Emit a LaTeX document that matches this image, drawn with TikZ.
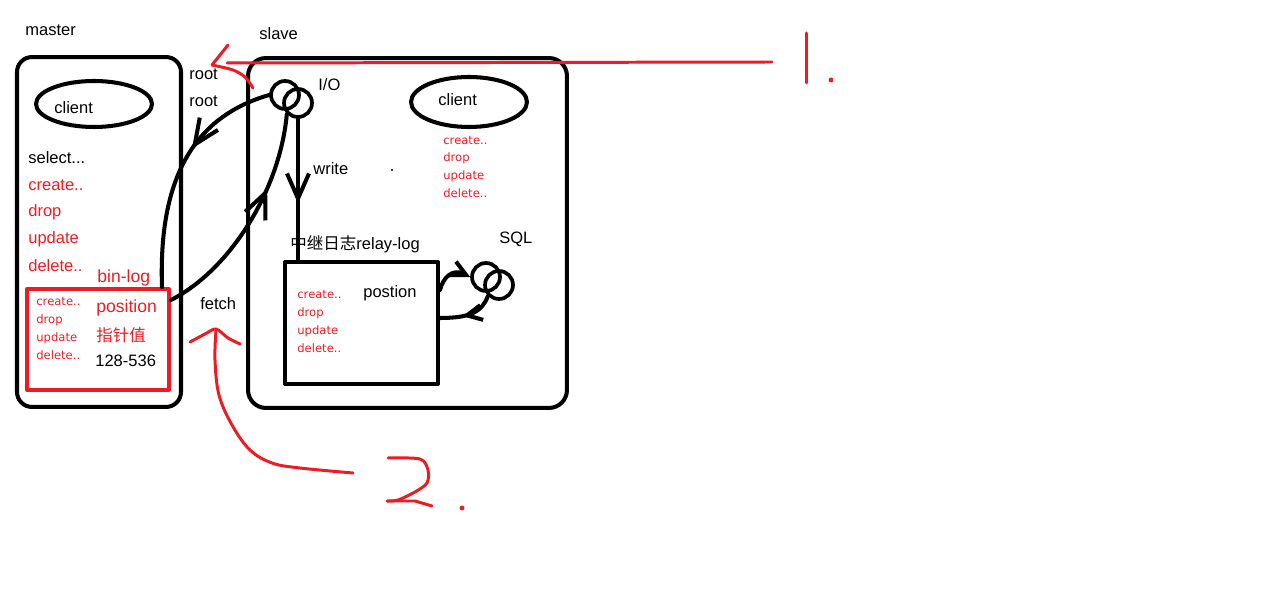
\documentclass[tikz,border=0pt]{standalone}
\usepackage{fontspec}
\setmainfont{Liberation Sans}
\newfontfamily\cjk{Noto Sans CJK SC}
\newfontfamily\smallfont{DejaVu Sans}
\usetikzlibrary{shapes.geometric,arrows.meta,decorations.markings}
\definecolor{paintred}{HTML}{ED1C24}
\tikzset{
  txt/.style={anchor=west, inner sep=0pt, font=\fontsize{9.4}{11}\selectfont},
  redtxt/.style={txt, text=paintred},
  tinytxt/.style={anchor=west, inner sep=0pt, text=paintred, font=\smallfont\fontsize{6.6}{8}\selectfont},
  box/.style={draw, line width=2.3pt, inner sep=0pt},
  ring/.style={draw, circle, line width=2.1pt, minimum size=0.56cm, inner sep=0pt},
  oval/.style={draw, ellipse, line width=2.3pt, inner sep=0pt},
  link/.style={line width=2.3pt},
  midarrow/.style={postaction={decorate}, decoration={markings,
    mark=at position #1 with {\arrow{Straight Barb[length=5mm,width=4.4mm]}}}},
  smallarrow/.style={postaction={decorate}, decoration={markings,
    mark=at position #1 with {\arrow{Straight Barb[length=3mm,width=3mm]}}}},
  pen/.style={paintred, line width=1.7pt},
}
\begin{document}
\begin{tikzpicture}[x=0.02cm, y=-0.02cm, line join=round, line cap=round, >=stealth]
\useasboundingbox (0,0) rectangle (1285,607);
% master side
\node[txt] (mastertxt) at (25,30) {master};
\node[box, rounded corners=0.3cm, minimum width=3.28cm, minimum height=7cm] (master) at (99,232) {};
\node[oval, minimum width=2.32cm, minimum height=0.92cm] (mclient) at (94,104) {};
\node[txt] (mclienttxt) at (54,108) {client};
\node[txt] (select) at (28,158) {select...};
\foreach \t/\y [count=\i] in {create../185, drop/212, update/239, delete../266}
  \node[redtxt] (msql\i) at (28,\y) {\t};
\node[redtxt, font=\fontsize{10}{12}\selectfont] (binlog) at (97,278) {bin-log};
\node[box, draw=paintred, minimum width=2.84cm, minimum height=2.02cm] (binbox) at (98,339.5) {};
\foreach \t/\y [count=\i] in {create../302, drop/320, update/338, delete../355}
  \node[tinytxt] (bsql\i) at (36,\y) {\t};
\node[redtxt, font=\fontsize{10}{12}\selectfont] (pos) at (96,308) {position};
\node[redtxt] (ptr) at (96,335) {\cjk 指针值};
\node[txt] (range) at (95,361) {128-536};
\node[txt] (root1) at (189,74) {root};
\node[txt] (root2) at (189,101) {root};
\node[txt] (fetch) at (200,304) {fetch};
% slave side
\node[txt] (slavetxt) at (259,34) {slave};
\node[box, rounded corners=0.36cm, minimum width=6.38cm, minimum height=7cm] (slave) at (407.5,233) {};
\node[ring] (io1) at (285,95) {};
\node[ring] (io2) at (298,103) {};
\node[txt] (iotxt) at (318,85) {I/O};
\node[oval, minimum width=2.32cm, minimum height=1cm] (sclient) at (469,102) {};
\node[txt] (sclienttxt) at (438,100) {client};
\foreach \t/\y [count=\i] in {create../141, drop/158, update/176, delete../193}
  \node[tinytxt] (ssql\i) at (443,\y) {\t};
\node[txt] (write) at (313,169) {write};
\fill (392,170) circle (0.6pt);
\node[txt] (relaytxt) at (290,244) {{\cjk 中继日志}relay-log};
\node[box, minimum width=3.06cm, minimum height=2.44cm] (relay) at (361.5,323) {};
\foreach \t/\y [count=\i] in {create../295, drop/313, update/331, delete../348}
  \node[tinytxt] (rsql\i) at (297,\y) {\t};
\node[txt] (postion) at (363,293) {postion};
\node[txt] (sqltxt) at (499,239) {SQL};
\node[ring] (sql1) at (486,277) {};
\node[ring] (sql2) at (499,285) {};
% connectors
\draw[link, midarrow=0.6] (io2.south) -- (io2.south |- relay.north);
\draw[link, midarrow=0.4] (io1.west) .. controls (200,115) and (158,170) .. ([xshift=-0.18cm]binbox.north east);
\draw[link, midarrow=0.66] ([yshift=-0.26cm]binbox.north east) .. controls (230,270) and (280,190) .. (io2.south west);
\draw[link, -{Straight Barb[length=3mm,width=3mm]}] ([yshift=-0.6cm]relay.north east) .. controls (443,278) and (452,268) .. (sql1.west);
\draw[link, smallarrow=0.6] (sql2.south west) .. controls (482,312) and (470,318) .. ([yshift=0.1cm]relay.east);
% red notes
\draw[pen] (227,63) -- (772,62);
\draw[pen] (228,45) -- (212,65);
\draw[pen] plot[smooth] coordinates {(212,65) (233,70) (245,77) (253,88)};
\draw[pen] (806,33) -- (806,83);
\fill[paintred] (831,80) circle (1.4pt);
\draw[pen] plot[smooth, tension=0.6] coordinates {(353,473) (300,468) (272,463) (250,450) (232,425) (219,395) (215,360) (216,330)};
\draw[pen] plot[smooth] coordinates {(190,342) (205,334) (216,329) (228,338) (240,344)};
\draw[pen] plot[smooth, tension=0.5] coordinates {(388,458) (420,459) (428,470) (427,483) (415,492) (398,500) (387,501)};
\draw[pen] (387,501) -- (415,501) -- (432,506);
\fill[paintred] (462,508) circle (1.4pt);
\end{tikzpicture}
\end{document}
